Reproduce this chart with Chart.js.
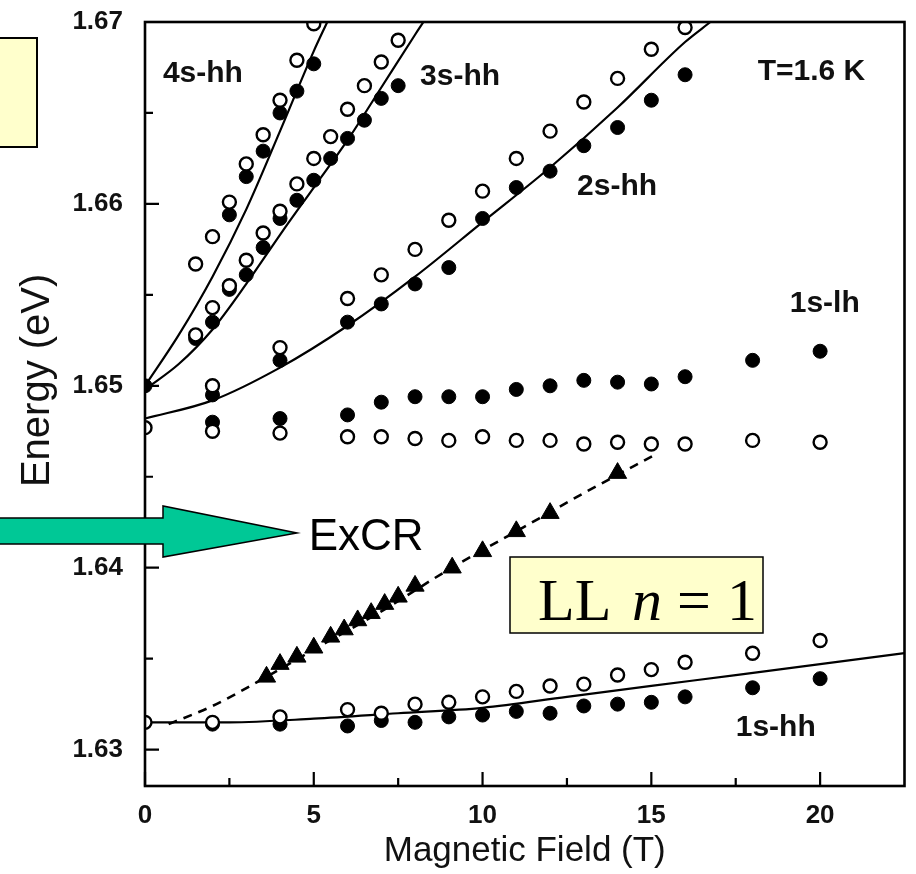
<!DOCTYPE html>
<html>
<head>
<meta charset="utf-8">
<title>Magneto-PL energies</title>
<script src="https://cdn.jsdelivr.net/npm/chart.js@4.4.1/dist/chart.umd.min.js"></script>
<style>
  html, body { margin: 0; padding: 0; background: #fff; overflow: hidden; }
  #wrap { position: relative; width: 916px; height: 874px; }
</style>
</head>
<body>
<div id="wrap"><canvas id="chart" width="916" height="874"></canvas></div>
<script>
// --- Axes ---
const xMajorTicks = [0, 5, 10, 15, 20];
const xMinorTicks = [2.5, 7.5, 12.5, 17.5];
const yMajorTicks = [1.63, 1.64, 1.65, 1.66, 1.67];
const yMinorTicks = [1.635, 1.645, 1.655, 1.665];

// --- 1s-hh ---
const hh1OpenB = [0, 2, 4, 6, 7, 8, 9, 10, 11, 12, 13, 14, 15, 16, 18, 20];
const hh1OpenE = [1.6315, 1.6315, 1.6318, 1.6322, 1.6320, 1.6325, 1.6326, 1.6329, 1.6332, 1.6335, 1.6336, 1.6341, 1.6344, 1.6348, 1.6353, 1.6360];
const hh1FullB = [2, 4, 6, 7, 8, 9, 10, 11, 12, 13, 14, 15, 16, 18, 20];
const hh1FullE = [1.6314, 1.6314, 1.6313, 1.6316, 1.6315, 1.6318, 1.6319, 1.6321, 1.6320, 1.6324, 1.6325, 1.6326, 1.6329, 1.6334, 1.6339];
const hh1FitB = [0, 2.5, 5, 7.5, 10, 12.5, 15, 17.5, 20, 22.5];
const hh1FitE = [1.6315, 1.6315, 1.6317, 1.6320, 1.6323, 1.6329, 1.6335, 1.6341, 1.6347, 1.6353];

// --- ExCR (triangles + dashed guide) ---
const excrB = [3.6, 4.0, 4.5, 5.0, 5.5, 5.9, 6.3, 6.7, 7.1, 7.5, 8.0, 9.1, 10, 11, 12, 14];
const excrE = [1.6340, 1.6347, 1.6351, 1.6356, 1.6362, 1.6366, 1.6371, 1.6375, 1.6380, 1.6384, 1.6390, 1.6400, 1.6409, 1.6420, 1.6430, 1.6452];
const excrFitB = [0.7, 2, 3.5, 5, 7, 9, 11, 13, 15.2];
const excrFitE = [1.6314, 1.6324, 1.6339, 1.6355, 1.6376, 1.6399, 1.6420, 1.6441, 1.6463];

// --- 1s-lh ---
const lh1FullB = [2, 4, 6, 7, 8, 9, 10, 11, 12, 13, 14, 15, 16, 18, 20];
const lh1FullE = [1.6480, 1.6482, 1.6484, 1.6491, 1.6494, 1.6494, 1.6494, 1.6498, 1.6500, 1.6503, 1.6502, 1.6501, 1.6505, 1.6514, 1.6519];
const lh1OpenB = [0, 2, 4, 6, 7, 8, 9, 10, 11, 12, 13, 14, 15, 16, 18, 20];
const lh1OpenE = [1.6477, 1.6475, 1.6474, 1.6472, 1.6472, 1.6471, 1.6470, 1.6472, 1.6470, 1.6470, 1.6468, 1.6469, 1.6468, 1.6468, 1.6470, 1.6469];

// --- 2s-hh ---
const hh2B = [2, 4, 6, 7, 8, 9, 10, 11, 12, 13, 14, 15, 16];
const hh2OpenE = [1.6500, 1.6521, 1.6548, 1.6561, 1.6575, 1.6591, 1.6607, 1.6625, 1.6640, 1.6656, 1.6669, 1.6685, 1.6697];
const hh2FullE = [1.6495, 1.6514, 1.6535, 1.6545, 1.6556, 1.6565, 1.6592, 1.6609, 1.6618, 1.6632, 1.6642, 1.6657, 1.6671];
const hh2FitB = [0, 2, 4, 6, 8, 10, 12, 14, 16, 16.75];
const hh2FitE = [1.6482, 1.6492, 1.6510, 1.6533, 1.6560, 1.6590, 1.6620, 1.6653, 1.6689, 1.6700];

// --- 3s-hh ---
const hh3B = [1.5, 2, 2.5, 3, 3.5, 4, 4.5, 5, 5.5, 6, 6.5, 7, 7.5];
const hh3OpenE = [1.6528, 1.6543, 1.6555, 1.6569, 1.6584, 1.6596, 1.6611, 1.6625, 1.6637, 1.6652, 1.6665, 1.6678, 1.6690];
const hh3FullE = [1.6526, 1.6535, 1.6553, 1.6561, 1.6576, 1.6592, 1.6602, 1.6613, 1.6625, 1.6636, 1.6646, 1.6658, 1.6665];
const hh3FitB = [0, 1, 2, 3, 4, 5, 6, 7, 8, 8.25];
const hh3FitE = [1.6498, 1.6512, 1.6531, 1.6556, 1.6583, 1.6609, 1.6635, 1.6664, 1.6693, 1.6700];

// --- 4s-hh ---
const hh4OpenB = [1.5, 2, 2.5, 3, 3.5, 4, 4.5, 5];
const hh4OpenE = [1.6567, 1.6582, 1.6601, 1.6622, 1.6638, 1.6657, 1.6679, 1.6699];
const hh4FullB = [0, 2.5, 3, 3.5, 4, 4.5, 5];
const hh4FullE = [1.6500, 1.6594, 1.6615, 1.6629, 1.6650, 1.6662, 1.6677];
const hh4FitB = [0, 1, 2, 3, 4, 5, 5.4];
const hh4FitE = [1.6500, 1.6528, 1.6560, 1.6597, 1.6640, 1.6684, 1.6700];

// text labels, placed in data units
const seriesLabels = [
  { text: '4s-hh', b: 0.53, e: 1.66714 },
  { text: '3s-hh', b: 8.15, e: 1.66698 },
  { text: 'T=1.6 K', b: 18.15, e: 1.66725 },
  { text: '2s-hh', b: 12.8, e: 1.66093 },
  { text: '1s-lh', b: 19.1, e: 1.65451 },
  { text: '1s-hh', b: 17.5, e: 1.63121 }
];

const pts = (xs, ys) => xs.map((x, i) => ({ x: x, y: ys[i] }));

const openStyle = { pointRadius: 6.5, pointBorderWidth: 2.4, pointBackgroundColor: '#fff', pointBorderColor: '#000', showLine: false };
const fullStyle = { pointRadius: 7, pointBorderWidth: 1, pointBackgroundColor: '#000', pointBorderColor: '#000', showLine: false };
const fitStyle = { showLine: true, pointRadius: 0, borderColor: '#000', borderWidth: 2.2, cubicInterpolationMode: 'monotone', fill: false };

const datasets = [
  Object.assign({ data: pts(hh1OpenB, hh1OpenE) }, openStyle),
  Object.assign({ data: pts(lh1OpenB, lh1OpenE) }, openStyle),
  Object.assign({ data: pts(hh2B, hh2OpenE) }, openStyle),
  Object.assign({ data: pts(hh3B, hh3OpenE) }, openStyle),
  Object.assign({ data: pts(hh4OpenB, hh4OpenE) }, openStyle),
  Object.assign({ data: pts(hh1FullB, hh1FullE) }, fullStyle),
  Object.assign({ data: pts(lh1FullB, lh1FullE) }, fullStyle),
  Object.assign({ data: pts(hh2B, hh2FullE) }, fullStyle),
  Object.assign({ data: pts(hh3B, hh3FullE) }, fullStyle),
  Object.assign({ data: pts(hh4FullB, hh4FullE) }, fullStyle),
  { data: pts(excrB, excrE), pointStyle: 'triangle', pointRadius: 10.5, pointBackgroundColor: '#000', pointBorderColor: '#000', pointBorderWidth: 1, showLine: false },
  Object.assign({ data: pts(excrFitB, excrFitE) }, fitStyle, { borderDash: [9, 7], borderWidth: 2.6 }),
  Object.assign({ data: pts(hh1FitB, hh1FitE) }, fitStyle),
  Object.assign({ data: pts(hh2FitB, hh2FitE) }, fitStyle),
  Object.assign({ data: pts(hh3FitB, hh3FitE) }, fitStyle),
  Object.assign({ data: pts(hh4FitB, hh4FitE) }, fitStyle)
];

const SANS = '"Liberation Sans", Arial, Helvetica, sans-serif';
const SERIF = '"Liberation Serif", "Times New Roman", serif';

// frame, inward ticks, labels and callouts
const decor = {
  id: 'decor',
  afterDraw(chart) {
    const { ctx, chartArea: a } = chart;
    const xs = chart.scales.x, ys = chart.scales.y;
    ctx.save();
    ctx.strokeStyle = '#000';
    ctx.lineWidth = 2.6;
    ctx.strokeRect(a.left, a.top, a.right - a.left, a.bottom - a.top);

    ctx.lineWidth = 2.2;
    ctx.beginPath();
    xMajorTicks.concat(xMinorTicks).forEach(v => {
      const px = xs.getPixelForValue(v);
      const len = xMajorTicks.includes(v) ? 14 : 8;
      ctx.moveTo(px, a.bottom); ctx.lineTo(px, a.bottom - len);
    });
    yMajorTicks.concat(yMinorTicks).forEach(v => {
      const py = ys.getPixelForValue(v);
      const len = yMajorTicks.includes(v) ? 14 : 8;
      ctx.moveTo(a.left, py); ctx.lineTo(a.left + len, py);
    });
    ctx.stroke();

    // y axis title, centred a little above the middle of the axis
    ctx.save();
    ctx.translate(38, ys.getPixelForValue(1.6503));
    ctx.rotate(-Math.PI / 2);
    ctx.fillStyle = '#111';
    ctx.font = '40px ' + SANS;
    ctx.textAlign = 'center';
    ctx.textBaseline = 'middle';
    ctx.fillText('Energy (eV)', 0, 0);
    ctx.restore();

    ctx.fillStyle = '#111';
    ctx.font = 'bold 30px ' + SANS;
    ctx.textBaseline = 'middle';
    ctx.textAlign = 'left';
    seriesLabels.forEach(l => {
      ctx.fillText(l.text, xs.getPixelForValue(l.b), ys.getPixelForValue(l.e));
    });

    // ExCR label
    ctx.fillStyle = '#000';
    ctx.font = '44px ' + SANS;
    ctx.fillText('ExCR', xs.getPixelForValue(4.85), ys.getPixelForValue(1.64165));

    // LL n = 1 box
    ctx.fillStyle = '#FFFFCC';
    ctx.fillRect(510, 557, 253, 76);
    ctx.lineWidth = 1.5;
    ctx.strokeRect(510, 557, 253, 76);
    ctx.fillStyle = '#000';
    ctx.textBaseline = 'alphabetic';
    ctx.font = '60px ' + SERIF;
    ctx.fillText('LL', 538, 620);
    ctx.font = 'italic 60px ' + SERIF;
    ctx.fillText('n', 632, 620);
    ctx.font = '60px ' + SERIF;
    ctx.fillText('=', 677, 620);
    ctx.fillText('1', 727, 620);

    // empty note box, top left
    ctx.fillStyle = '#FFFFCC';
    ctx.fillRect(-4, 38, 41, 109);
    ctx.lineWidth = 2;
    ctx.strokeRect(-4, 38, 41, 109);

    // arrow pointing at ExCR
    ctx.beginPath();
    ctx.moveTo(-4, 518);
    ctx.lineTo(163, 518);
    ctx.lineTo(163, 506);
    ctx.lineTo(297, 533);
    ctx.lineTo(163, 557);
    ctx.lineTo(163, 544);
    ctx.lineTo(-4, 544);
    ctx.closePath();
    ctx.fillStyle = '#00C896';
    ctx.fill();
    ctx.lineWidth = 1.5;
    ctx.strokeStyle = '#000';
    ctx.stroke();
    ctx.restore();
  }
};

new Chart(document.getElementById('chart'), {
  type: 'scatter',
  data: { datasets: datasets },
  options: {
    responsive: false,
    animation: false,
    layout: { padding: { left: 0, right: 6, top: 22, bottom: 0 } },
    plugins: { legend: { display: false }, tooltip: { enabled: false } },
    scales: {
      x: {
        type: 'linear',
        min: 0,
        max: 22.5,
        grid: { display: false },
        border: { display: false },
        afterBuildTicks: s => { s.ticks = xMajorTicks.concat(xMinorTicks).sort((p, q) => p - q).map(v => ({ value: v })); },
        afterFit: s => { s.height = 88; s.paddingLeft = 0; s.paddingRight = 0; },
        ticks: {
          padding: 6,
          color: '#111',
          font: { family: SANS, size: 26, weight: 'bold' },
          maxRotation: 0,
          autoSkip: false,
          callback: v => xMajorTicks.includes(v) ? String(v) : ''
        },
        title: { display: true, text: 'Magnetic Field (T)', color: '#111', font: { family: SANS, size: 35 }, padding: { top: 0, bottom: 2 } }
      },
      y: {
        type: 'linear',
        min: 1.628,
        max: 1.670,
        grid: { display: false },
        border: { display: false },
        afterBuildTicks: s => { s.ticks = yMajorTicks.concat(yMinorTicks).sort((p, q) => p - q).map(v => ({ value: v })); },
        afterFit: s => { s.width = 145; s.paddingTop = 0; s.paddingBottom = 0; },
        ticks: {
          padding: 14,
          color: '#111',
          font: { family: SANS, size: 26, weight: 'bold' },
          autoSkip: false,
          callback: v => yMajorTicks.includes(v) ? v.toFixed(2) : ''
        },
        title: { display: false }
      }
    }
  },
  plugins: [decor]
});
</script>
</body>
</html>
